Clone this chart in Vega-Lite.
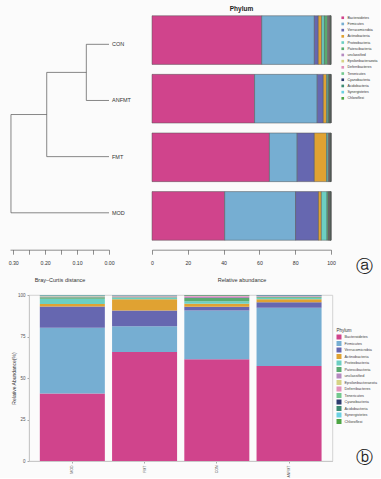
{
  "$schema": "https://vega.github.io/schema/vega-lite/v6.json",
  "background": "#fbfbfb",
  "padding": {"left": 8, "top": 5, "right": 0, "bottom": 0},
  "config": {
    "font": "Liberation Sans",
    "view": {"stroke": null},
    "axis": {"grid": false, "labelFont": "Liberation Sans", "titleFont": "Liberation Sans", "titleFontWeight": "normal"}
  },
  "datasets": {
    "abund": [
      {"group": "CON", "phylum": "Bacteroidetes", "rank": 1, "value": 61.3},
      {"group": "CON", "phylum": "Firmicutes", "rank": 2, "value": 29.4},
      {"group": "CON", "phylum": "Verrucomicrobia", "rank": 3, "value": 2.2},
      {"group": "CON", "phylum": "Actinobacteria", "rank": 4, "value": 1.9},
      {"group": "CON", "phylum": "Proteobacteria", "rank": 5, "value": 1.5},
      {"group": "CON", "phylum": "Patescibacteria", "rank": 6, "value": 1.9},
      {"group": "CON", "phylum": "unclassified", "rank": 7, "value": 0.6},
      {"group": "CON", "phylum": "Epsilonbacteraeota", "rank": 8, "value": 0.2},
      {"group": "CON", "phylum": "Deferribacteres", "rank": 9, "value": 0.4},
      {"group": "CON", "phylum": "Tenericutes", "rank": 10, "value": 0.2},
      {"group": "CON", "phylum": "Cyanobacteria", "rank": 11, "value": 0.1},
      {"group": "CON", "phylum": "Acidobacteria", "rank": 12, "value": 0.1},
      {"group": "CON", "phylum": "Synergistetes", "rank": 13, "value": 0.1},
      {"group": "CON", "phylum": "Chloroflexi", "rank": 14, "value": 0.1},
      {"group": "ANFMT", "phylum": "Bacteroidetes", "rank": 1, "value": 57.3},
      {"group": "ANFMT", "phylum": "Firmicutes", "rank": 2, "value": 35.0},
      {"group": "ANFMT", "phylum": "Verrucomicrobia", "rank": 3, "value": 3.4},
      {"group": "ANFMT", "phylum": "Actinobacteria", "rank": 4, "value": 1.8},
      {"group": "ANFMT", "phylum": "Proteobacteria", "rank": 5, "value": 0.8},
      {"group": "ANFMT", "phylum": "Patescibacteria", "rank": 6, "value": 0.6},
      {"group": "ANFMT", "phylum": "unclassified", "rank": 7, "value": 0.3},
      {"group": "ANFMT", "phylum": "Epsilonbacteraeota", "rank": 8, "value": 0.1},
      {"group": "ANFMT", "phylum": "Deferribacteres", "rank": 9, "value": 0.1},
      {"group": "ANFMT", "phylum": "Tenericutes", "rank": 10, "value": 0.1},
      {"group": "ANFMT", "phylum": "Cyanobacteria", "rank": 11, "value": 0.3},
      {"group": "ANFMT", "phylum": "Acidobacteria", "rank": 12, "value": 0.1},
      {"group": "ANFMT", "phylum": "Synergistetes", "rank": 13, "value": 0.05},
      {"group": "ANFMT", "phylum": "Chloroflexi", "rank": 14, "value": 0.05},
      {"group": "FMT", "phylum": "Bacteroidetes", "rank": 1, "value": 65.6},
      {"group": "FMT", "phylum": "Firmicutes", "rank": 2, "value": 15.5},
      {"group": "FMT", "phylum": "Verrucomicrobia", "rank": 3, "value": 9.6},
      {"group": "FMT", "phylum": "Actinobacteria", "rank": 4, "value": 6.8},
      {"group": "FMT", "phylum": "Proteobacteria", "rank": 5, "value": 0.9},
      {"group": "FMT", "phylum": "Patescibacteria", "rank": 6, "value": 0.3},
      {"group": "FMT", "phylum": "unclassified", "rank": 7, "value": 0.6},
      {"group": "FMT", "phylum": "Epsilonbacteraeota", "rank": 8, "value": 0.1},
      {"group": "FMT", "phylum": "Deferribacteres", "rank": 9, "value": 0.2},
      {"group": "FMT", "phylum": "Tenericutes", "rank": 10, "value": 0.1},
      {"group": "FMT", "phylum": "Cyanobacteria", "rank": 11, "value": 0.1},
      {"group": "FMT", "phylum": "Acidobacteria", "rank": 12, "value": 0.1},
      {"group": "FMT", "phylum": "Synergistetes", "rank": 13, "value": 0.05},
      {"group": "FMT", "phylum": "Chloroflexi", "rank": 14, "value": 0.05},
      {"group": "MOD", "phylum": "Bacteroidetes", "rank": 1, "value": 40.6},
      {"group": "MOD", "phylum": "Firmicutes", "rank": 2, "value": 39.6},
      {"group": "MOD", "phylum": "Verrucomicrobia", "rank": 3, "value": 12.8},
      {"group": "MOD", "phylum": "Actinobacteria", "rank": 4, "value": 1.6},
      {"group": "MOD", "phylum": "Proteobacteria", "rank": 5, "value": 3.2},
      {"group": "MOD", "phylum": "Patescibacteria", "rank": 6, "value": 0.8},
      {"group": "MOD", "phylum": "unclassified", "rank": 7, "value": 0.3},
      {"group": "MOD", "phylum": "Epsilonbacteraeota", "rank": 8, "value": 0.2},
      {"group": "MOD", "phylum": "Deferribacteres", "rank": 9, "value": 0.2},
      {"group": "MOD", "phylum": "Tenericutes", "rank": 10, "value": 0.3},
      {"group": "MOD", "phylum": "Cyanobacteria", "rank": 11, "value": 0.1},
      {"group": "MOD", "phylum": "Acidobacteria", "rank": 12, "value": 0.2},
      {"group": "MOD", "phylum": "Synergistetes", "rank": 13, "value": 0.05},
      {"group": "MOD", "phylum": "Chloroflexi", "rank": 14, "value": 0.05}
    ],
    "tree": [
      {"h1": 0, "h2": 0.071, "p1": 1, "p2": 1},
      {"h1": 0, "h2": 0.071, "p1": 2, "p2": 2},
      {"h1": 0.071, "h2": 0.071, "p1": 1, "p2": 2},
      {"h1": 0.071, "h2": 0.195, "p1": 1.5, "p2": 1.5},
      {"h1": 0, "h2": 0.195, "p1": 3, "p2": 3},
      {"h1": 0.195, "h2": 0.195, "p1": 1.5, "p2": 3},
      {"h1": 0.195, "h2": 0.307, "p1": 2.25, "p2": 2.25},
      {"h1": 0, "h2": 0.307, "p1": 4, "p2": 4},
      {"h1": 0.307, "h2": 0.307, "p1": 2.25, "p2": 4}
    ],
    "leaves": [
      {"label": "CON", "p": 1, "h": 0},
      {"label": "ANFMT", "p": 2, "h": 0},
      {"label": "FMT", "p": 3, "h": 0},
      {"label": "MOD", "p": 4, "h": 0}
    ]
  },
  "resolve": {"legend": {"color": "independent"}},
  "title": {"text": "ⓑ", "orient": "bottom", "anchor": "end", "font": "DejaVu Sans", "fontSize": 17, "fontWeight": "normal", "color": "#222", "offset": 0, "dy": -27, "dx": -7},
  "spacing": 8,
  "vconcat": [
    {
      "spacing": 19,
      "title": {"text": "ⓐ", "orient": "bottom", "anchor": "end", "font": "DejaVu Sans", "fontSize": 17, "fontWeight": "normal", "color": "#222", "offset": 0, "dy": -24, "dx": -7},
      "hconcat": [
        {
          "width": 99,
          "height": 228,
          "encoding": {
            "x": {"type": "quantitative",
              "scale": {"domain": [0, 0.31], "reverse": true, "nice": false, "zero": false},
              "axis": {"values": [0, 0.05, 0.1, 0.15, 0.2, 0.25, 0.3],
                "labelExpr": "round(datum.value*100) % 10 == 0 ? format(datum.value, '.2f') : ''",
                "labelOverlap": false,
                "title": "Bray\u2013Curtis distance", "offset": 7.7, "tickSize": 4.5, "labelPadding": 6,
                "labelFontSize": 5.2, "titleFontSize": 5.5, "titlePadding": 12,
                "domainColor": "#444", "tickColor": "#444", "labelColor": "#333", "titleColor": "#333",
                "domainWidth": 0.6, "tickWidth": 0.6, "labelFlush": false}},
            "y": {"type": "quantitative",
              "scale": {"domain": [0.46, 4.52], "reverse": true, "nice": false, "zero": false}, "axis": null}
          },
          "layer": [
            {
              "data": {"name": "tree"},
              "mark": {"type": "rule", "color": "#555", "strokeWidth": 0.7},
              "encoding": {
                "x": {"field": "h1", "type": "quantitative"},
                "x2": {"field": "h2"},
                "y": {"field": "p1", "type": "quantitative"},
                "y2": {"field": "p2"}
              }
            },
            {
              "data": {"name": "leaves"},
              "mark": {"type": "text", "align": "left", "baseline": "middle", "dx": 3, "fontSize": 5.5, "color": "#333"},
              "encoding": {
                "x": {"field": "h", "type": "quantitative"},
                "y": {"field": "p", "type": "quantitative"},
                "text": {"field": "label"}
              }
            }
          ]
        },
        {
          "width": 179,
          "height": 228,
          "title": {"text": "Phylum", "fontSize": 6.5, "fontWeight": "bold", "offset": 2, "color": "#222"},
          "data": {"name": "abund"},
          "mark": {"type": "bar", "stroke": "#555", "strokeWidth": 0.5},
          "encoding": {
            "y": {"field": "group", "type": "nominal", "sort": ["CON", "ANFMT", "FMT", "MOD"],
              "scale": {"paddingInner": 0.17, "paddingOuter": 0.03}, "axis": null},
            "x": {"field": "value", "type": "quantitative", "stack": "zero",
              "scale": {"domain": [0, 100], "nice": false},
              "axis": {"values": [0, 20, 40, 60, 80, 100], "title": "Relative abundance", "offset": 7.7,
                "tickSize": 4.5, "labelPadding": 6, "labelFontSize": 5.2, "titleFontSize": 5.5, "titlePadding": 12,
                "domainColor": "#444", "tickColor": "#444", "labelColor": "#333", "titleColor": "#333",
                "domainWidth": 0.6, "tickWidth": 0.6, "labelFlush": false}},
            "color": {"field": "phylum", "type": "nominal",
              "scale": {
                "domain": ["Bacteroidetes", "Firmicutes", "Verrucomicrobia", "Actinobacteria", "Proteobacteria", "Patescibacteria", "unclassified", "Epsilonbacteraeota", "Deferribacteres", "Tenericutes", "Cyanobacteria", "Acidobacteria", "Synergistetes", "Chloroflexi"],
                "range": ["#d0448c", "#76aed2", "#6667b0", "#e0a232", "#6ccfc2", "#5aab70", "#b58ac0", "#d6d384", "#e291bb", "#73c98f", "#2c3b6e", "#3d8b73", "#6bd1e3", "#4ea544"]},
              "legend": {"title": null, "orient": "right", "offset": 3, "symbolType": "square", "symbolSize": 7,
                "symbolStrokeWidth": 0, "labelFontSize": 3.5, "rowPadding": 1.2, "labelOffset": 3, "padding": 2,
                "labelColor": "#333"}},
            "order": {"field": "rank", "type": "quantitative"}
          }
        }
      ]
    },
    {
      "spacing": 0,
      "hconcat": [
        {
          "width": 1,
          "height": 166,
          "data": {"values": []},
          "mark": {"type": "point", "opacity": 0}
        },
        {
          "width": 303.4,
          "height": 166,
          "view": {"stroke": "#c8c8c8", "strokeWidth": 0.8},
          "data": {"name": "abund"},
          "mark": {"type": "bar"},
          "encoding": {
            "x": {"field": "group", "type": "nominal", "sort": ["MOD", "FMT", "CON", "ANFMT"],
              "scale": {"paddingInner": 0.1, "paddingOuter": 0.15},
              "axis": {"title": null, "labelAngle": 270, "labelFontSize": 3.5, "tickSize": 2, "labelPadding": 2,
                "domainColor": "#c8c8c8", "tickColor": "#aaa", "labelColor": "#555"}},
            "y": {"field": "value", "type": "quantitative", "stack": "zero",
              "scale": {"domain": [0, 100], "nice": false},
              "axis": {"values": [0, 25, 50, 75, 100], "title": "Relative Abundance(%)", "tickSize": 2, "labelPadding": 2,
                "labelFontSize": 4.5, "titleFontSize": 5, "titlePadding": 0.5, "domainColor": "#c8c8c8", "tickColor": "#aaa",
                "labelColor": "#555", "titleColor": "#333"}},
            "color": {"field": "phylum", "type": "nominal",
              "scale": {
                "domain": ["Bacteroidetes", "Firmicutes", "Verrucomicrobia", "Actinobacteria", "Proteobacteria", "Patescibacteria", "unclassified", "Epsilonbacteraeota", "Deferribacteres", "Tenericutes", "Cyanobacteria", "Acidobacteria", "Synergistetes", "Chloroflexi"],
                "range": ["#d0448c", "#76aed2", "#6667b0", "#e0a232", "#6ccfc2", "#5aab70", "#b58ac0", "#d6d384", "#e291bb", "#73c98f", "#2c3b6e", "#3d8b73", "#6bd1e3", "#4ea544"]},
              "legend": {"title": "Phylum", "orient": "none", "legendX": 326.5, "legendY": 33, "symbolType": "square", "symbolSize": 25,
                "symbolStrokeWidth": 0, "labelFontSize": 3.8, "titleFontSize": 4.5, "titleFontWeight": "normal", "titleColor": "#333",
                "rowPadding": 1.5, "labelOffset": 3, "padding": 0, "labelColor": "#444", "titlePadding": 2}},
            "order": {"field": "rank", "type": "quantitative"}
          }
        }
      ]
    }
  ]
}
